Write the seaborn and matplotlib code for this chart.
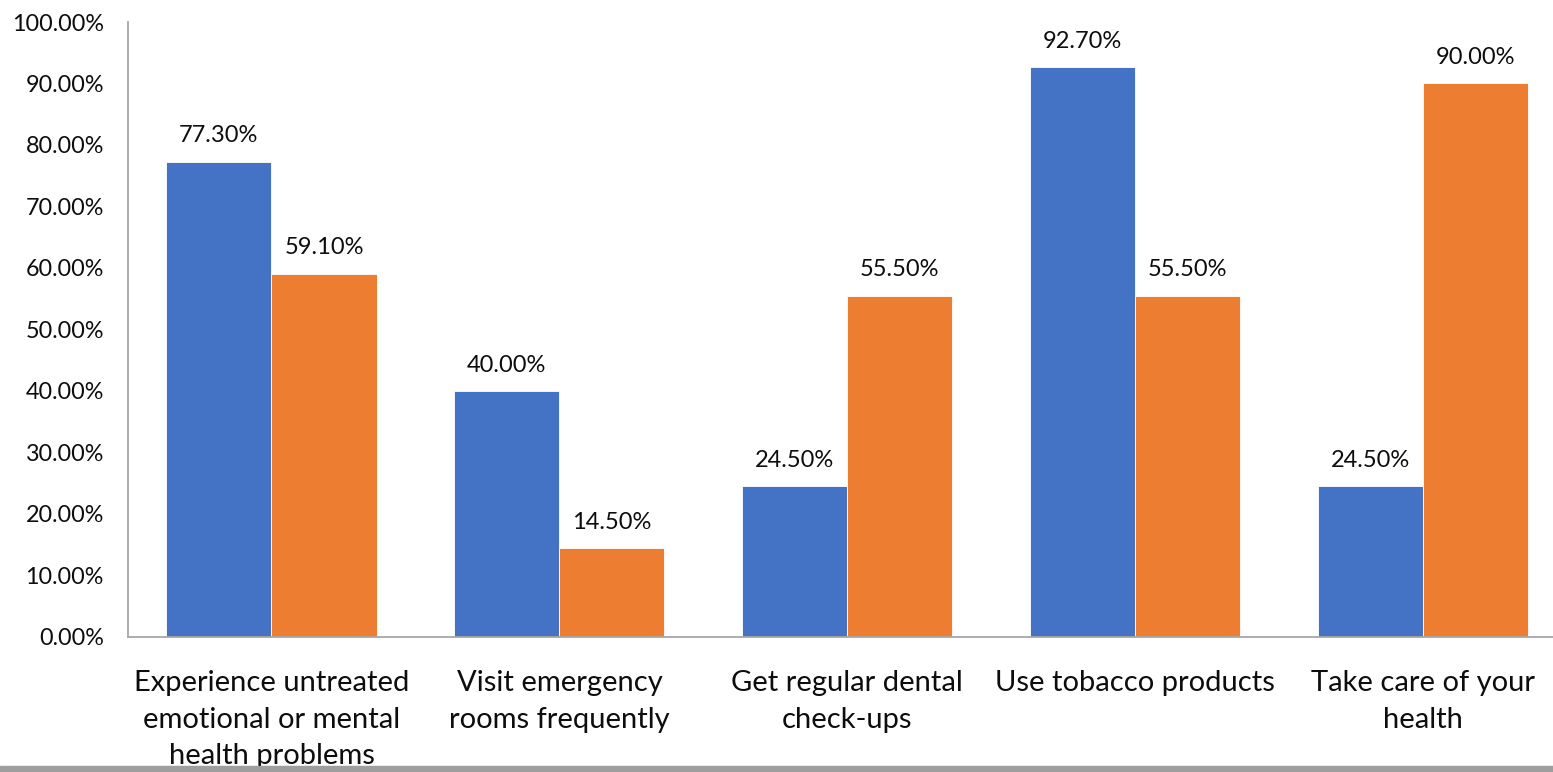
import matplotlib
matplotlib.use("Agg")
import matplotlib.pyplot as plt
from matplotlib.patches import Rectangle
import pandas as pd
import seaborn as sns

categories = [
    "Experience untreated\nemotional or mental\nhealth problems",
    "Visit emergency\nrooms frequently",
    "Get regular dental\ncheck-ups",
    "Use tobacco products",
    "Take care of your\nhealth",
]
group_a = [77.3, 40.0, 24.5, 92.7, 24.5]
group_b = [59.1, 14.5, 55.5, 55.5, 90.0]
y_ticks = [0, 10, 20, 30, 40, 50, 60, 70, 80, 90, 100]

df = pd.DataFrame({
    "category": categories * 2,
    "group": ["A"] * len(categories) + ["B"] * len(categories),
    "value": group_a + group_b,
})

sns.set_theme(style="white")
plt.rcParams["font.family"] = ["Lato", "DejaVu Sans"]

fig = plt.figure(figsize=(15.53, 7.72), dpi=100)
ax = fig.add_axes([0.0821, 0.1749, 0.927, 0.7966])

sns.barplot(
    data=df, x="category", y="value", hue="group",
    palette=["#4472C4", "#ED7D31"], saturation=1, width=0.73,
    edgecolor="white", linewidth=0.6, legend=False, ax=ax,
)

for cont in ax.containers:
    ax.bar_label(cont, labels=[f"{v:.2f}%" for v in cont.datavalues],
                 padding=11, fontsize=17, color="#0d0d0d")

ax.set_xlim(-0.5, len(categories) - 0.5)
ax.set_ylim(0, 100)
ax.set_yticks(y_ticks)
ax.set_yticklabels([f"{t:.2f}%" for t in y_ticks], fontsize=16.8, color="#0d0d0d")
ax.tick_params(axis="y", length=0, pad=17)
ax.tick_params(axis="x", length=0, pad=24)
for lbl in ax.get_xticklabels():
    lbl.set_fontsize(21)
    lbl.set_color("#0d0d0d")
    lbl.set_linespacing(1.5)
ax.set_xlabel("")
ax.set_ylabel("")

for side in ("top", "right"):
    ax.spines[side].set_visible(False)
for side in ("left", "bottom"):
    ax.spines[side].set_color("#A6A6A6")
    ax.spines[side].set_linewidth(1.3)

fig.patches.append(Rectangle((0, 0), 1, 6 / 772, transform=fig.transFigure,
                             color="#9E9E9E", zorder=10))

fig.savefig("out.png", dpi=100)
